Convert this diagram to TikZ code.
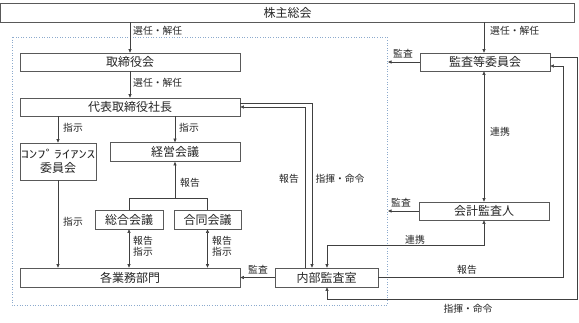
\documentclass[tikz,border=0pt]{standalone}
\usepackage{fontspec}
\setmainfont{Noto Sans CJK JP}
\usetikzlibrary{arrows.meta}
\begin{document}
\begin{tikzpicture}[x=1pt,y=-1pt,
  box/.style={draw=black!65, line width=0.7pt, inner sep=0pt, text=black!85, font=\fontsize{12}{14}\selectfont},
  lbl/.style={font=\fontsize{9.8}{11.5}\selectfont, inner sep=1pt, text=black!85, align=left},
  ln/.style={draw=black!75, line width=0.6pt},
  conn/.style={ln, -{Triangle[length=3.5pt,width=3pt]}},
  dconn/.style={ln, {Triangle[length=3.5pt,width=3pt]}-{Triangle[length=3.5pt,width=3pt]}},
  bound/.style={draw={rgb,255:red,140;green,170;blue,205}, line width=0.6pt, dotted}
]
\useasboundingbox (0,0) rectangle (579,322);
\fill[white] (0,0) rectangle (579,322);

% boundary
\draw[bound] (12,37) rectangle (387,305);

% nodes
\node[box, minimum width=574pt, minimum height=19pt] (sh) at (287.7,12.5) {株主総会};
\node[box, minimum width=220pt, minimum height=18pt] (tb) at (130,62) {取締役会};
\node[box, minimum width=220pt, minimum height=18pt] (ceo) at (130,107) {代表取締役社長};
\node[box, minimum width=76pt, minimum height=37pt, align=center] (comp) at (58,161.5) {\scalebox{1.5}[1]{\fontsize{11}{14}\selectfont ｺﾝﾌﾟﾗｲｱﾝｽ}\\委員会};
\node[box, minimum width=130pt, minimum height=19pt] (keiei) at (175,152) {経営会議};
\node[box, minimum width=68pt, minimum height=19pt] (sogo) at (129,219.5) {総合会議};
\node[box, minimum width=67pt, minimum height=19pt] (godo) at (207.5,219.5) {合同会議};
\node[box, minimum width=220pt, minimum height=19pt] (gyomu) at (130,277.5) {各業務部門};
\node[box, minimum width=103pt, minimum height=19pt] (naibu) at (326.5,277.5) {内部監査室};
\node[box, minimum width=130pt, minimum height=18pt] (kansa) at (485,62) {監査等委員会};
\node[box, minimum width=130pt, minimum height=18pt] (kaikei) at (484,211) {会計監査人};

% helper coordinates
\coordinate (tj) at (175,198);
\coordinate (bk1) at (388,62);
\coordinate (bk2) at (388,211);
\coordinate (ka) at (484,62);
\coordinate (kk) at (484,211);

% left side connectors
\draw[conn] (sh.south -| tb) -- (tb.north);
\node[lbl, anchor=west] at (132,31) {選任・解任};
\draw[conn] (tb.south) -- (ceo.north);
\node[lbl, anchor=west] at (132,83) {選任・解任};
\draw[conn] (ceo.south -| comp) -- (comp.north);
\node[lbl, anchor=west] at (62,128) {指示};
\draw[conn] (ceo.south -| keiei) -- (keiei.north);
\node[lbl, anchor=west] at (178,128) {指示};
\draw[conn] (comp.south) -- (comp.south |- gyomu.north);
\node[lbl, anchor=west] at (62,222) {指示};
\draw[ln] (sogo.north) -- (sogo.north |- tj) -- (godo.north |- tj) -- (godo.north);
\draw[conn] (tj) -- (keiei.south);
\node[lbl, anchor=west] at (179,183) {報告};
\draw[dconn] (sogo.south) -- (sogo.south |- gyomu.north);
\node[lbl, anchor=west] at (132,246.5) {報告\\指示};
\draw[dconn] (godo.south) -- (godo.south |- gyomu.north);
\node[lbl, anchor=west] at (211,246.5) {報告\\指示};
\draw[conn] (naibu.west) -- (gyomu.east);
\node[lbl] at (258,270) {監査};

% CEO <-> internal audit
\draw[conn] ([yshift=4pt]ceo.east) -| ([xshift=-14.5pt]naibu.north);
\draw[conn] ([xshift=-21.5pt]naibu.north) |- (ceo.east);
\node[lbl] at (289,179) {報告};
\node[lbl] at (340,179) {指揮・命令};

% right side
\draw[conn] (sh.south -| ka) -- (kansa.north -| ka);
\node[lbl, anchor=west] at (489,31) {選任・解任};
\draw[conn] (kansa.west) -- (bk1);
\node[lbl] at (403,54) {監査};
\draw[dconn] (kansa.south -| ka) -- (kaikei.north -| ka);
\node[lbl, anchor=west] at (489,132) {連携};
\draw[conn] (kaikei.west) -- (bk2);
\node[lbl] at (401,203) {監査};
\draw[dconn] (kaikei.south -| kk) |- (327,245) -- (naibu.north -| 327,0);
\node[lbl] at (415,240) {連携};
\draw[conn] (naibu.east) -- (563,277.5) -- (563,66) -- ([yshift=-4pt]kansa.east);
\node[lbl] at (467,270) {報告};
\draw[conn] ([yshift=5pt]kansa.east) -- (577.5,57) -- (577.5,299) -- (327,299) -- (naibu.south -| 327,0);
\node[lbl] at (468,309) {指揮・命令};
\end{tikzpicture}
\end{document}
